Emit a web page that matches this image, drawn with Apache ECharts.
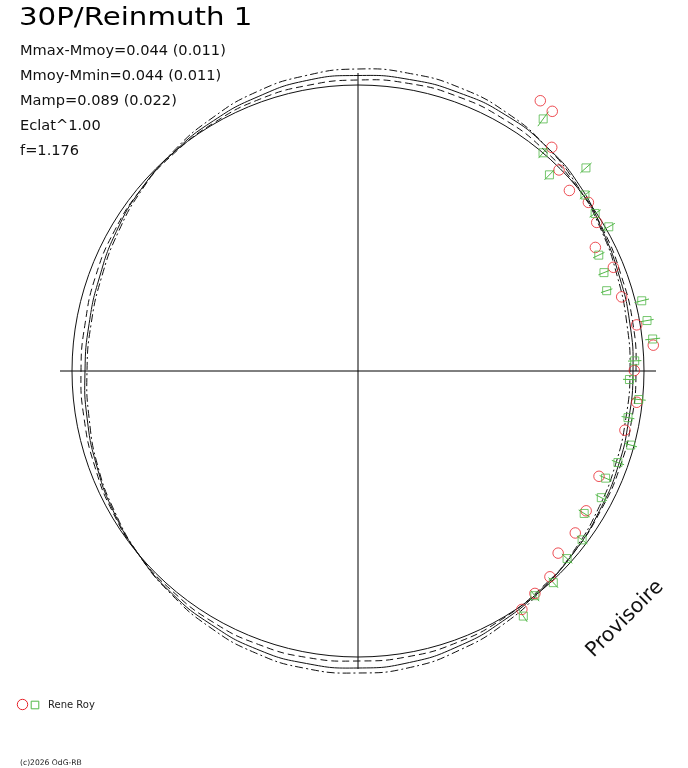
<!DOCTYPE html>
<html>
<head>
<meta charset="utf-8">
<script src="https://cdn.jsdelivr.net/npm/echarts@6/dist/echarts.min.js"></script>
<style>html,body{margin:0;padding:0;background:#fff}#c{width:688px;height:768px}</style>
</head>
<body>
<div id="c"></div>
<script>
// ---- data (radius in plot units, angle in degrees, 0 = right, counter-clockwise) ----
const CURVE_ANGLES = [0,10,20,30,40,50,60,70,80,90,100,110,120,130,140,150,160,170,180,190,200,210,220,230,240,250,260,270,280,290,300,310,320,330,340,350];
const FIT_R      = [275,276,278,282,289,293,295.5,296,296,295.5,295,292,289,286,283,279,275,273,273,275,278,282,286,290,293,296,297,297,296,293,289,285,282,279,277,275];
const DASH_HI_R  = [272,273,276,281,287,293,298,301,302,302,300,297,292,287,282,277,273,271,271,273,277,281,286,291,296,300,302,302,301,297,292,286,281,277,274,272];
const DASH_LO_R  = [278,279,280,283,286,289,291,292,292,291,290,289,287,285,283,281,279,277,277,278,280,283,286,288,290,291,291,290,290,289,287,284,282,280,279,278];
const MEAN_R = 286;

const RED_R     = [326.0,324.3,295.9,284.3,278.0,285.5,281.2,267.6,275.6,273.9,282.5,296.4,276.3,280.5,273.4,263.0,267.6,271.0,270.6,281.4,284.2,289.3];
const RED_ANGLE = [56.0,53.2,49.1,45.0,40.5,36.2,31.9,27.5,22.1,15.7,9.4,5.0,0.1,353.6,347.5,336.4,328.5,323.3,317.7,313.0,308.5,304.5];

const GREEN_R     = [312.8,286.1,274.1,305.3,287.2,284.7,289.3,267.2,264.9,261.3,292.3,293.4,296.4,276.9,271.6,282.2,274.0,282.6,275.6,269.8,274.3,267.3,280.6,280.9,288.0,285.9,295.6];
const GREEN_ANGLE = [53.7,49.7,45.7,41.7,37.8,33.6,29.9,25.7,21.8,17.9,13.9,9.9,6.2,2.1,358.2,354.2,350.2,344.8,340.6,336.6,332.5,327.8,323.0,318.1,312.7,308.2,304.0];
const GREEN_ERR   = [9,7,7,7.5,6.5,6.7,7,6.3,6,6,7.5,6.7,7.5,6.7,6.5,7,6.5,6.5,6.5,6.5,6.5,6.5,6.5,7,7,7,7];

const TITLE = '30P/Reinmuth 1';
const INFO_LINES = ['Mmax-Mmoy=0.044 (0.011)','Mmoy-Mmin=0.044 (0.011)','Mamp=0.089 (0.022)','Eclat^1.00','f=1.176'];
const OBSERVER = 'Rene Roy';
const COPYRIGHT = '(c)2026 OdG-RB';
const STAMP = 'Provisoire';

// ---- build ----
const FONT = 'DejaVu Sans';
const RED = '#e8232a', GREEN = '#52b848', INK = '#111';
const zip = (rs, as) => rs.map((r, i) => [r, as[i]]);

const chart = echarts.init(document.getElementById('c'), null, {renderer: 'canvas'});

// closed smooth curve through (radius, angle) readings, placed by the polar scales
const curveSeries = (radii, dash) => ({
  type: 'custom', coordinateSystem: 'polar', silent: true, animation: false, clip: false,
  data: [[radii[0], CURVE_ANGLES[0]]],
  renderItem: function (params, api) {
    const pts = CURVE_ANGLES.map((a, i) => api.coord([radii[i], a]));
    return {type: 'polygon', shape: {points: pts, smooth: 0.5},
            style: {fill: null, stroke: INK, lineWidth: 1, lineDash: dash}};
  }
});
const meanSeries = {
  type: 'custom', coordinateSystem: 'polar', silent: true, animation: false, clip: false,
  data: [[MEAN_R, 0]],
  renderItem: function (params, api) {
    const c = api.coord([0, 0]);
    const p = api.coord([api.value(0), 0]);
    return {type: 'circle', shape: {cx: c[0], cy: c[1], r: Math.abs(p[0] - c[0])},
            style: {fill: null, stroke: INK, lineWidth: 1}};
  }
};

const graphic = [
  {type: 'text', x: 19, y: 18.5, scaleX: 1.17, style: {text: TITLE, fontFamily: FONT, fontSize: 25, fill: '#000', align: 'left', verticalAlign: 'middle'}},
];
const infoY = [51.5, 76.5, 101.5, 126.5, 151];
INFO_LINES.forEach((t, i) => graphic.push({type: 'text', x: 20, y: infoY[i], style: {text: t, fontFamily: FONT, fontSize: 14.6, fill: '#111', align: 'left', verticalAlign: 'middle'}}));
graphic.push(
  {type: 'circle', shape: {cx: 22.5, cy: 704.5, r: 5.2}, style: {fill: 'none', stroke: RED, lineWidth: 1}},
  {type: 'rect', shape: {x: 31.2, y: 701.2, width: 7.6, height: 7.6}, style: {fill: 'none', stroke: GREEN, lineWidth: 1}},
  {type: 'text', x: 48, y: 705, style: {text: OBSERVER, fontFamily: FONT, fontSize: 10, fill: '#222', align: 'left', verticalAlign: 'middle'}},
  {type: 'text', x: 20, y: 763, style: {text: COPYRIGHT, fontFamily: FONT, fontSize: 7.6, fill: '#222', align: 'left', verticalAlign: 'middle'}},
  {type: 'text', x: 625, y: 619, rotation: Math.PI / 4, style: {text: STAMP, fontFamily: FONT, fontSize: 20.5, fill: '#111', align: 'center', verticalAlign: 'middle'}}
);

chart.setOption({
  backgroundColor: '#fff',
  animation: false,
  polar: {center: [358, 371], radius: 298},
  angleAxis: {
    type: 'value', min: 0, max: 360, interval: 90, startAngle: 0, clockwise: false,
    axisLine: {show: false}, axisTick: {show: false}, axisLabel: {show: false},
    splitLine: {show: true, lineStyle: {color: '#000', width: 1}}
  },
  radiusAxis: {
    type: 'value', min: 0, max: 298,
    axisLine: {show: false}, axisTick: {show: false}, axisLabel: {show: false}, splitLine: {show: false}
  },
  graphic: graphic,
  series: [
    meanSeries,
    curveSeries(FIT_R, null),
    curveSeries(DASH_HI_R, [8, 3, 2, 3]),
    curveSeries(DASH_LO_R, [7, 4]),
    {
      type: 'scatter', coordinateSystem: 'polar', clip: false, animation: false,
      data: zip(RED_R, RED_ANGLE), symbol: 'circle', symbolSize: 10.5,
      itemStyle: {color: 'rgba(0,0,0,0)', borderColor: RED, borderWidth: 1}
    },
    {
      type: 'custom', coordinateSystem: 'polar', animation: false,
      data: GREEN_R.map((r, i) => [r, GREEN_ANGLE[i], GREEN_ERR[i]]),
      renderItem: function (params, api) {
        const r = api.value(0), a = api.value(1), e = api.value(2);
        const p1 = api.coord([r - e, a]);
        const p2 = api.coord([r + e, a]);
        return {type: 'line', shape: {x1: p1[0], y1: p1[1], x2: p2[0], y2: p2[1]}, style: {stroke: GREEN, lineWidth: 1}};
      }
    },
    {
      type: 'scatter', coordinateSystem: 'polar', clip: false, animation: false,
      data: zip(GREEN_R, GREEN_ANGLE), symbol: 'rect', symbolSize: 8,
      itemStyle: {color: 'rgba(0,0,0,0)', borderColor: GREEN, borderWidth: 1}
    }
  ]
});
</script>
</body>
</html>
